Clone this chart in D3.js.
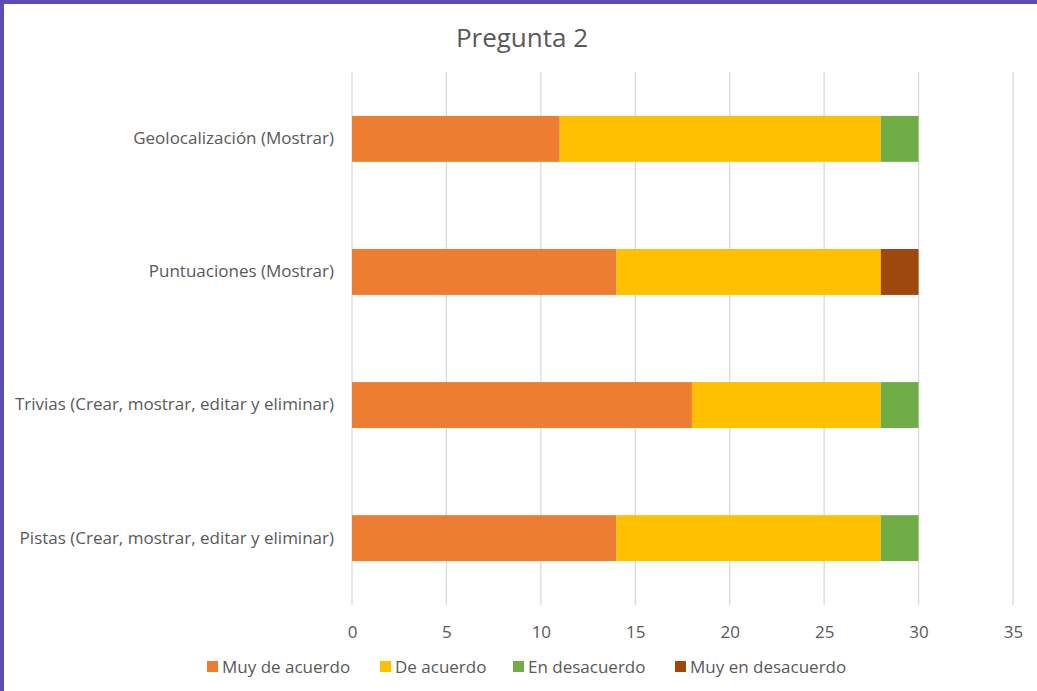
<!DOCTYPE html>
<html>
<head>
<meta charset="utf-8">
<script src="https://cdn.jsdelivr.net/npm/d3@7"></script>
<style>
  html, body { margin: 0; padding: 0; background: #fff; }
  svg { display: block; }
  text { font-family: "Open Sans", sans-serif; fill: #595959; }
</style>
</head>
<body>
<svg id="chart" width="1037" height="691"></svg>
<script>
const categories = [
  "Geolocalización (Mostrar)",
  "Puntuaciones (Mostrar)",
  "Trivias (Crear, mostrar, editar y eliminar)",
  "Pistas (Crear, mostrar, editar y eliminar)"
];
const seriesNames = ["Muy de acuerdo", "De acuerdo", "En desacuerdo", "Muy en desacuerdo"];
const muyDeAcuerdo = [11, 14, 18, 14];
const deAcuerdo = [17, 14, 10, 14];
const enDesacuerdo = [2, 0, 2, 2];
const muyEnDesacuerdo = [0, 2, 0, 0];
const xTicks = [0, 5, 10, 15, 20, 25, 30, 35];
const colors = ["#ED7D31", "#FFC000", "#70AD47", "#9E480E"];

const svg = d3.select("#chart");
const W = 1037, H = 691;
const FONT = "'Open Sans', sans-serif";

// frame edges
svg.append("rect").attr("x", 0).attr("y", 0).attr("width", W).attr("height", 4).attr("fill", "#5A4DB5");
svg.append("rect").attr("x", 0).attr("y", 0).attr("width", 4).attr("height", H).attr("fill", "#5A4DB5");

const plotLeft = 352, plotRight = 1013, plotTop = 72, plotBottom = 605;
const x = d3.scaleLinear().domain([0, 35]).range([plotLeft, plotRight]);
const y = d3.scaleBand().domain(categories).range([plotTop, plotBottom]).paddingInner(0.655).paddingOuter(0.33);

// gridlines
svg.append("g").selectAll("line").data(xTicks).join("line")
  .attr("x1", d => x(d)).attr("x2", d => x(d))
  .attr("y1", plotTop).attr("y2", plotBottom)
  .attr("stroke", "#D9D9D9").attr("stroke-width", 1.3);

// stacked bars
const rows = categories.map((c, i) => ({
  cat: c,
  "Muy de acuerdo": muyDeAcuerdo[i],
  "De acuerdo": deAcuerdo[i],
  "En desacuerdo": enDesacuerdo[i],
  "Muy en desacuerdo": muyEnDesacuerdo[i]
}));
const stacked = d3.stack().keys(seriesNames)(rows);
svg.append("g").selectAll("g").data(stacked).join("g")
  .attr("fill", (d, i) => colors[i])
  .selectAll("rect").data(d => d).join("rect")
  .attr("x", d => x(d[0]))
  .attr("width", d => x(d[1]) - x(d[0]))
  .attr("y", d => y(d.data.cat))
  .attr("height", y.bandwidth());

// x axis labels
const xAxis = d3.axisBottom(x).tickValues(xTicks).tickSize(0).tickPadding(0);
const gx = svg.append("g").attr("transform", `translate(0,${plotBottom + 33})`).call(xAxis);
gx.select(".domain").remove();
gx.selectAll("text").style("font-size", "17px").style("font-family", FONT).attr("fill", "#595959").attr("dy", "0");

// category labels
const yAxis = d3.axisLeft(y).tickSize(0).tickPadding(0);
const gy = svg.append("g").attr("transform", `translate(${plotLeft - 18},0)`).call(yAxis);
gy.select(".domain").remove();
gy.selectAll("text").style("font-size", "17px").style("font-family", FONT).attr("fill", "#404040");

// title
svg.append("text").attr("x", 522).attr("y", 47).attr("text-anchor", "middle")
  .style("font-size", "26px").style("font-family", FONT).text("Pregunta 2");

// legend
const legendX = [207, 380, 513, 675];
const lg = svg.append("g").selectAll("g").data(seriesNames).join("g")
  .attr("transform", (d, i) => `translate(${legendX[i]},661)`);
lg.append("rect").attr("width", 11).attr("height", 11).attr("fill", (d, i) => colors[i]);
lg.append("text").attr("x", 15).attr("y", 12).style("font-size", "17px").style("font-family", FONT).attr("fill", "#404040").text(d => d);
</script>
</body>
</html>
